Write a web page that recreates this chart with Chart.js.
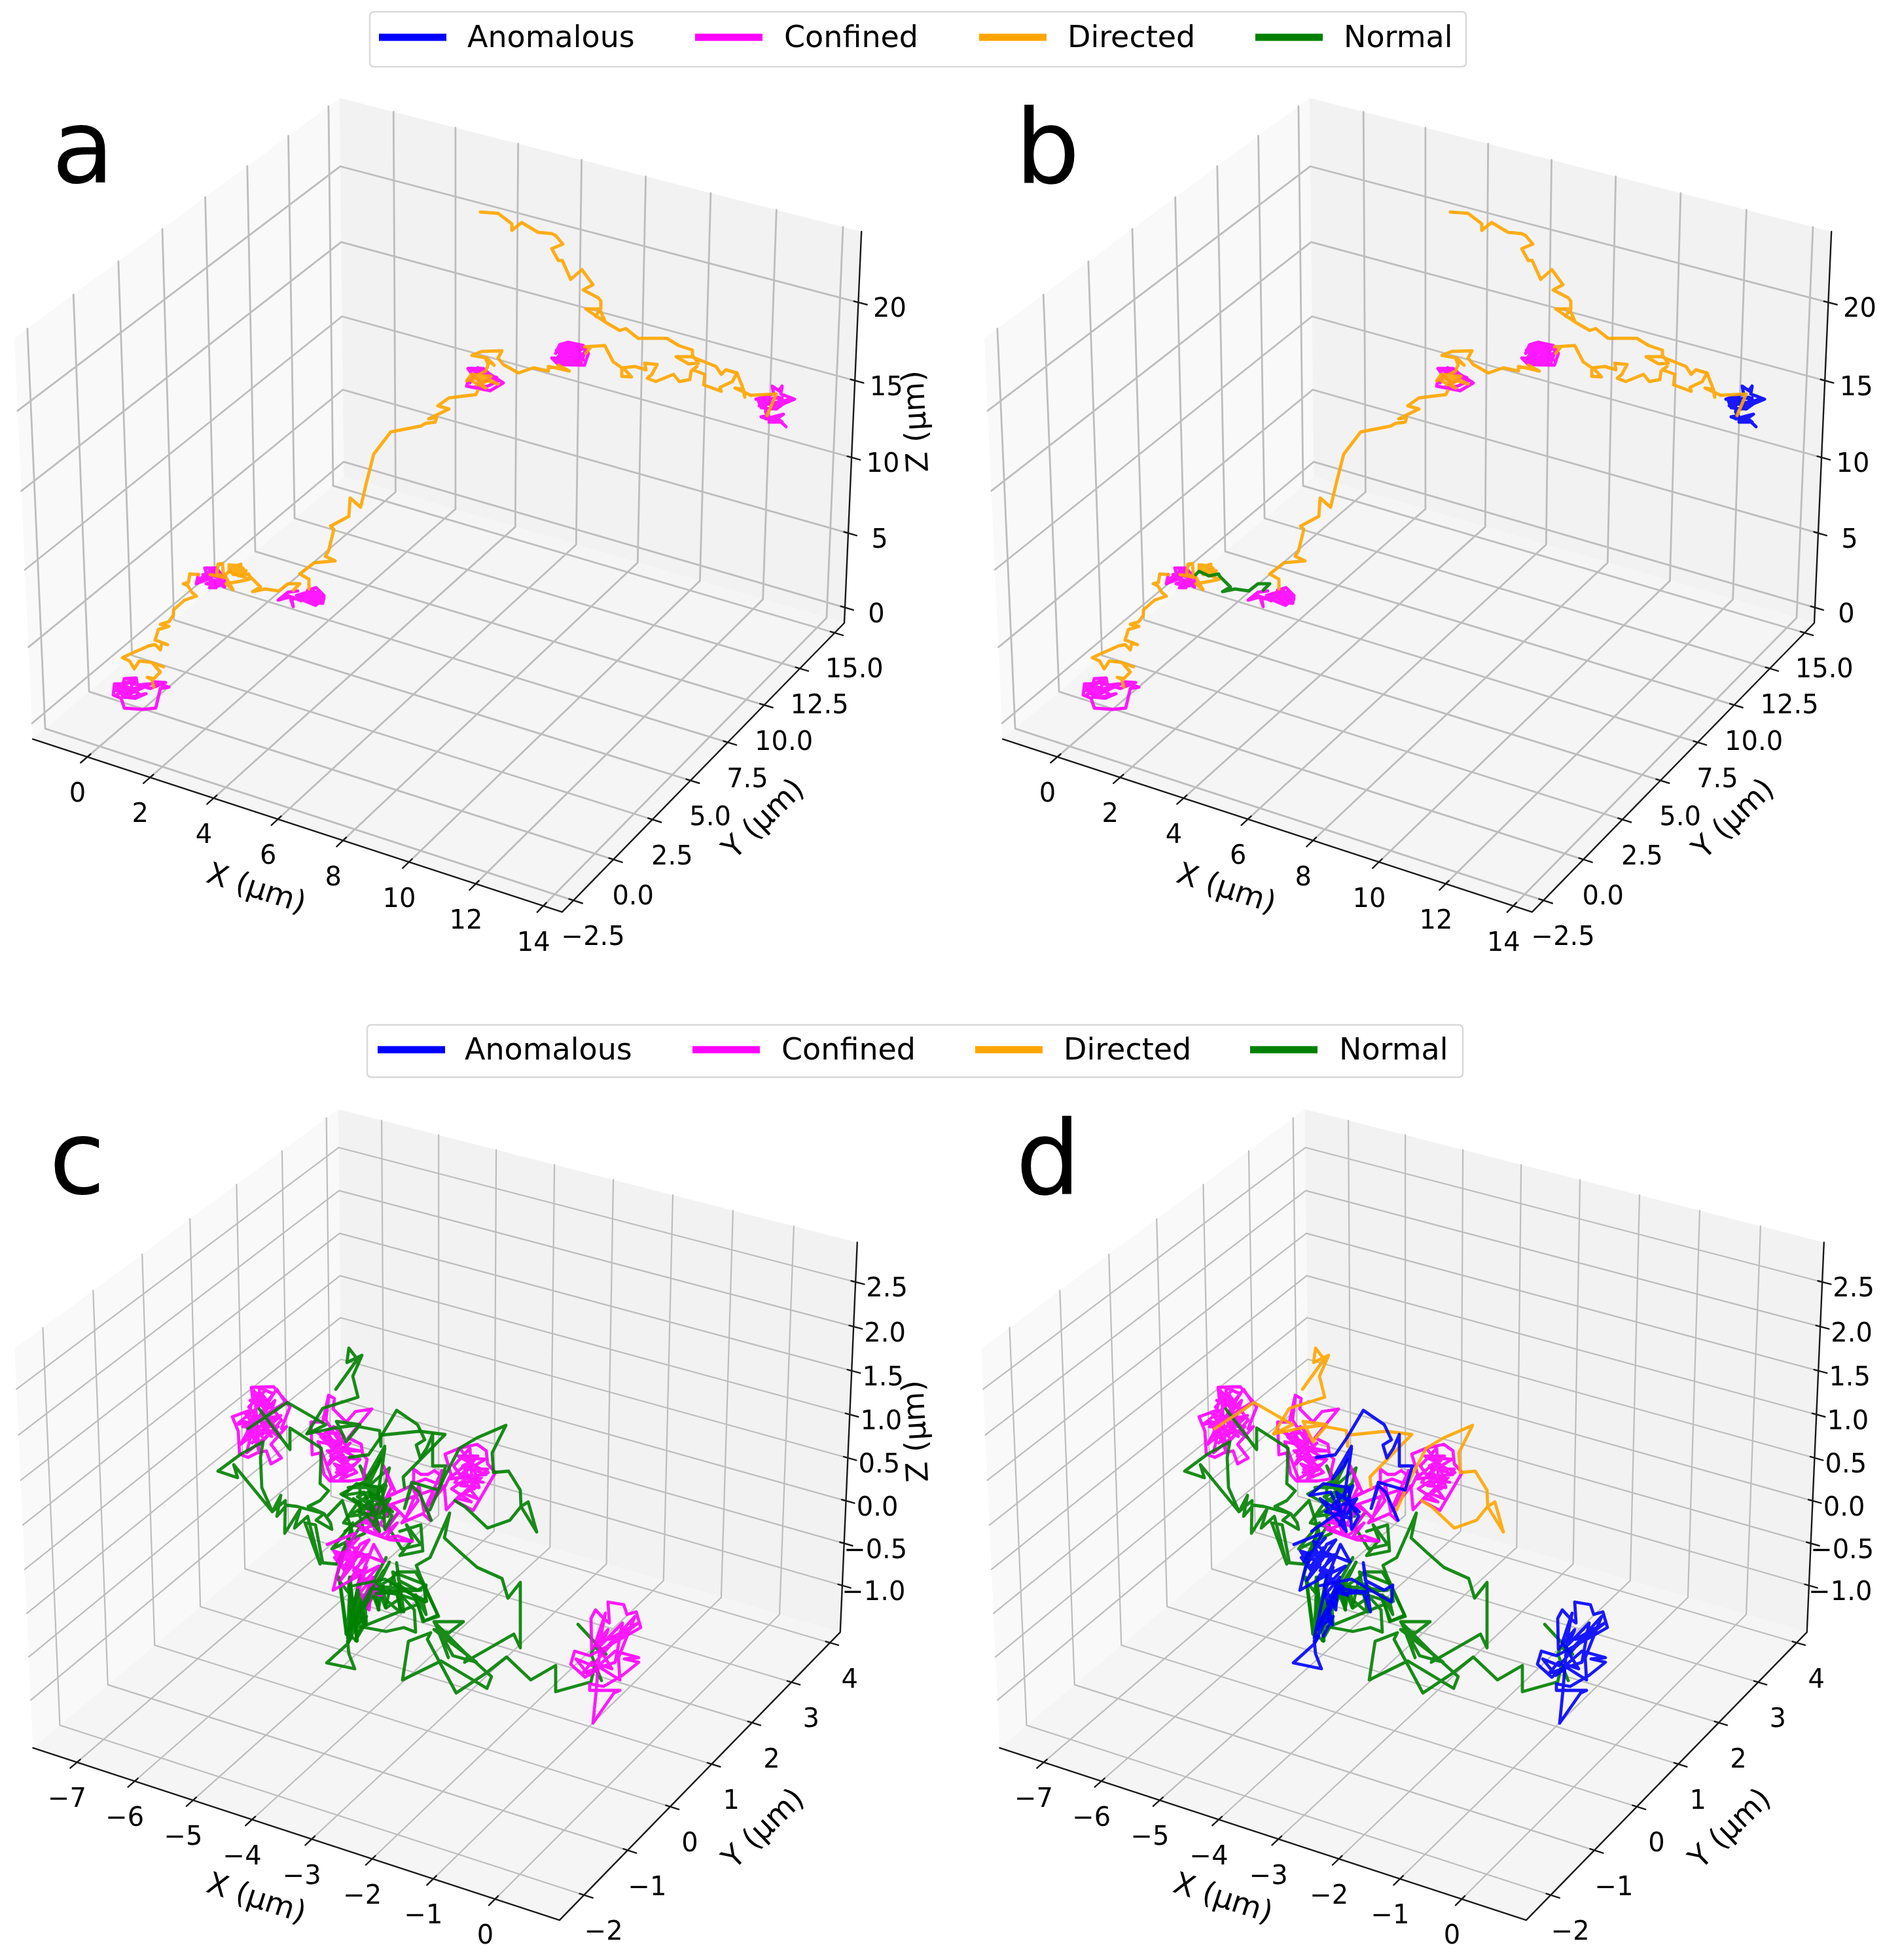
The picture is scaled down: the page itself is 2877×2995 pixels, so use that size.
<!DOCTYPE html>
<html>
<head>
<meta charset="utf-8">
<title>Trajectories</title>
<script src="https://cdn.jsdelivr.net/npm/chart.js@4"></script>
<style>
  html, body { margin: 0; padding: 0; background: #ffffff; }
  canvas { display: block; }
</style>
</head>
<body>
<canvas id="row-top" width="2877" height="1540"></canvas>
<canvas id="row-bottom" width="2877" height="1455"></canvas>
<script>
// Legend
const legendLabels = ['Anomalous', 'Confined', 'Directed', 'Normal'];
const legendColors = ['#0000ff', '#ff00ff', '#ffa500', '#008000'];

// Axis ticks of the upper panels (a, b)
const topXTicks = [0, 2, 4, 6, 8, 10, 12, 14];
const topYTicks = [-2.5, 0, 2.5, 5, 7.5, 10, 12.5, 15];
const topZTicks = [0, 5, 10, 15, 20];

// Axis ticks of the lower panels (c, d)
const lowXTicks = [-7, -6, -5, -4, -3, -2, -1, 0];
const lowYTicks = [-2, -1, 0, 1, 2, 3, 4];
const lowZTicks = [-1, -0.5, 0, 0.5, 1, 1.5, 2, 2.5];

const topPiece1 = [[233,1043],[258,1050],[245,1052],[238,1082],[218,1084],[190,1082],[185,1067],[173,1062],[175,1045],[188,1045],[190,1037],[208,1036],[210,1047],[227,1045],[208,1053],[198,1052],[180,1047],[177,1055],[193,1057],[187,1065],[207,1067],[223,1060],[202,1065],[185,1060],[180,1052],[197,1043],[230,1052],[253,1043],[237,1042],[220,1050],[195,1062],[205,1040],[185,1045],[212,1060],[195,1050],[178,1062],[190,1055],[215,1050],[200,1060],[180,1050]];
const topPiece2 = [[235,1050],[232,1038],[225,1035],[235,1037],[245,1027],[233,1013],[250,1019],[230,1012],[213,1010],[205,1022],[198,1010],[187,1005],[202,998],[227,987],[237,985],[245,993],[247,983],[256,985],[243,980],[237,978],[242,962],[258,957],[245,954],[258,950],[265,940],[265,932],[282,917],[300,911],[293,905],[287,895],[280,892],[288,890],[290,877],[303,878]];
const topPiece3 = [[303,878],[300,892],[317,883],[313,868],[330,868],[343,883],[343,897],[333,890],[330,898],[320,898],[327,887],[313,880],[327,877],[343,882],[323,880],[308,887],[305,885],[325,870],[338,885],[315,892],[335,895],[310,878],[330,880],[320,872],[340,890],[318,885],[305,890]];
const topPiece4 = [[321,878],[346,883],[331,877],[333,862],[340,861],[341,875],[356,901],[345,892],[368,888],[381,885],[368,880],[350,873],[350,863],[368,865],[375,875],[353,870],[365,878],[371,868],[355,867],[350,873],[352,866],[372,870],[356,878],[374,876],[350,868],[368,862],[360,875],[376,872]];
const topPiece5 = [[345,878],[350,873],[365,880],[380,877],[381,880],[398,897],[386,904],[405,900],[426,903],[440,892],[458,892],[448,902]];
const topPiece6 = [[455,903],[440,905],[425,917],[443,912],[448,927],[445,912],[460,918],[478,907],[495,912],[493,922],[480,920],[470,902],[483,898],[495,910],[477,915],[463,908],[453,910],[470,905],[490,905],[472,915],[492,918],[475,920],[468,910],[488,912],[478,902],[465,918],[482,925],[495,915],[470,912],[450,915],[436,908]];
const topPiece7 = [[472,900],[472,885],[458,877],[480,860],[512,857],[497,850],[502,842],[510,809],[505,804],[533,789],[535,761],[551,775],[560,737],[571,694],[597,660],[643,651],[650,647],[665,645],[667,638],[655,640],[686,625],[669,620],[686,608],[727,603],[730,597]];
const topPiece8 = [[715,563],[738,563],[746,570],[769,585],[749,597],[713,590],[715,582],[732,567],[759,577],[715,563],[720,570],[735,585],[750,578],[725,592],[745,590],[760,583],[730,562],[718,585]];
const topPiece9 = [[725,578],[745,582],[728,588],[750,575],[720,572],[713,582],[732,572],[761,587],[725,575],[742,593],[717,580],[742,567],[746,557],[742,548],[755,558],[744,547],[721,543],[736,537],[767,536],[761,547],[769,557],[778,562],[792,570],[815,562],[838,567],[838,560],[849,562],[870,567],[853,558]];
const topPiece10 = [[849,540],[855,527],[868,523],[891,528],[899,540],[893,558],[853,557],[843,547],[864,548],[883,545],[876,533],[857,537],[851,553],[887,557],[895,533],[864,527],[857,532],[891,533],[853,545],[891,550],[857,552],[883,555],[860,540],[880,530],[890,545],[870,552],[850,535],[875,540],[860,527],[885,537],[868,547],[893,540],[855,550]];
const topPiece11 = [[895,540],[903,530],[893,530],[924,528],[937,553],[950,562],[950,575],[965,576],[952,562],[970,560],[987,565],[985,555],[1004,557],[996,572],[989,578],[1002,583],[1029,572],[1038,583],[1054,580],[1056,567],[1065,560],[1058,565],[1077,572],[1075,588],[1102,598],[1100,592],[1119,583],[1126,570],[1134,590],[1138,607],[1136,595],[1123,593],[1147,604]];
const topPiece12 = [[1155,610],[1182,602],[1180,590],[1190,597],[1195,590],[1193,602],[1214,610],[1197,617],[1186,625],[1163,623],[1159,613],[1190,607],[1201,615],[1167,617],[1186,615],[1160,620],[1175,608],[1190,622],[1205,610],[1180,620],[1165,610],[1195,608],[1178,625],[1190,615],[1170,615],[1170,630],[1174,635],[1163,637],[1182,643],[1197,633],[1170,640],[1190,640],[1175,645],[1195,645],[1186,638],[1201,652]];
const topPiece13 = [[1147,604],[1186,602],[1172,635]];
const topPiece14 = [[1126,570],[1109,565],[1102,572],[1094,560],[1069,550],[1056,545],[1033,545],[1052,556],[1067,555],[1058,543],[1058,535],[1037,528],[1019,517],[975,517],[956,502],[947,505],[926,493],[914,485],[895,472],[916,472],[924,490],[910,483],[918,472],[918,460],[914,455],[891,443],[906,435],[889,412],[872,427],[859,398],[853,398],[843,380],[860,373],[849,360],[843,357],[822,355],[797,340],[782,352],[782,342],[761,326],[734,324]];

const topPieces = [topPiece1, topPiece3, topPiece6, topPiece8, topPiece10, topPiece12, topPiece2, topPiece4, topPiece5, topPiece7, topPiece9, topPiece11, topPiece13, topPiece14];
const classesA = ['Confined', 'Confined', 'Confined', 'Confined', 'Confined', 'Confined', 'Directed', 'Directed', 'Directed', 'Directed', 'Directed', 'Directed', 'Directed', 'Directed'];
const classesB = ['Confined', 'Confined', 'Confined', 'Confined', 'Confined', 'Anomalous', 'Directed', 'Directed', 'Normal', 'Directed', 'Directed', 'Directed', 'Directed', 'Directed'];

const lowCentre = [[514,2390],[550,2333],[525,2327],[546,2297],[521,2283],[564,2260],[582,2230],[561,2273],[595,2243],[589,2267],[546,2297],[577,2280],[593,2317],[550,2240],[571,2293],[532,2317],[586,2310],[557,2267],[591,2317],[546,2287],[579,2273],[532,2273],[550,2270],[550,2317],[557,2343],[507,2367],[539,2327],[514,2410],[532,2433],[534,2410],[546,2507],[529,2497],[518,2410]];
const lowCentreRight = [[611,2340],[643,2330],[646,2370],[611,2377],[630,2353],[621,2330],[643,2360],[614,2367],[593,2333],[607,2313]];
const lowBundle = [[519,2412],[531,2500],[535,2412],[545,2508],[547,2427],[529,2493],[586,2400],[544,2473],[595,2387],[547,2485],[590,2493],[617,2487],[635,2494],[633,2460],[615,2440],[590,2457],[585,2420],[578,2460],[572,2430],[611,2463],[608,2420],[647,2450],[651,2467],[635,2437],[646,2478],[669,2468],[647,2422],[635,2402],[608,2402],[601,2410],[569,2430],[611,2437],[647,2448],[560,2483],[558,2457]];
const lowFan = [[536,2410],[534,2503],[550,2407],[532,2500],[564,2430],[543,2467],[571,2423],[536,2483],[557,2437],[529,2495],[575,2420],[540,2470],[590,2380],[552,2450]];
const lowCluster1 = [[384,2120],[418,2119],[436,2140],[443,2150],[430,2183],[438,2180],[414,2207],[430,2228],[414,2237],[407,2217],[393,2220],[379,2227],[366,2222],[364,2187],[355,2165],[382,2155],[386,2137],[384,2120],[404,2147],[423,2123],[436,2143],[386,2173],[368,2207],[389,2190],[396,2220],[389,2127],[407,2140],[382,2140],[421,2153],[371,2180],[425,2180],[377,2220],[386,2180],[418,2130],[396,2120],[398,2147],[361,2177],[429,2163],[407,2183],[429,2197],[390,2130],[412,2150],[395,2165],[420,2140],[400,2195],[375,2160],[410,2175],[385,2205],[420,2165],[375,2195],[400,2130],[430,2170],[395,2210],[370,2170],[415,2195],[380,2150],[405,2125]];
const lowCluster2 = [[502,2132],[511,2137],[509,2153],[529,2173],[543,2157],[568,2153],[532,2197],[552,2207],[554,2222],[561,2230],[557,2247],[555,2260],[536,2263],[504,2263],[495,2253],[489,2220],[477,2223],[475,2173],[493,2173],[502,2132],[498,2170],[521,2207],[482,2187],[514,2210],[550,2217],[500,2217],[536,2247],[511,2237],[529,2257],[514,2250],[543,2237],[507,2260],[486,2203],[532,2213],[514,2190],[500,2190],[525,2225],[495,2200],[540,2225],[515,2245],[530,2235],[505,2225],[550,2230],[520,2260],[545,2250],[490,2195],[510,2180],[525,2195],[500,2240],[535,2205]];
const lowCluster3 = [[702,2213],[729,2207],[743,2217],[745,2237],[757,2250],[723,2308],[695,2293],[704,2283],[682,2307],[679,2273],[689,2253],[680,2222],[702,2213],[725,2240],[711,2227],[741,2230],[704,2253],[736,2257],[711,2283],[729,2290],[693,2240],[718,2213],[721,2260],[746,2250],[704,2270],[732,2273],[721,2233],[707,2240],[743,2253],[686,2260],[715,2235],[735,2245],[700,2225],[730,2225],[695,2265],[725,2275],[710,2245],[745,2245],[700,2290],[720,2295],[690,2275],[712,2260],[738,2265]];
const lowCluster4 = [[671,2253],[664,2247],[654,2253],[643,2253],[632,2245],[632,2267],[650,2260],[668,2267],[675,2247],[661,2280],[652,2300],[657,2323],[646,2313],[614,2327],[639,2293],[629,2270],[593,2287],[604,2280],[586,2240],[598,2273],[579,2310],[557,2327],[575,2330],[550,2337],[596,2353],[630,2355],[607,2347],[589,2350],[607,2327],[582,2347],[557,2313],[680,2270],[655,2300],[670,2275],[648,2310],[640,2270],[620,2320],[600,2300],[580,2330],[560,2300],[575,2345],[545,2330],[565,2320],[590,2335],[610,2310],[580,2290],[560,2340]];
const lowCluster5 = [[500,2360],[543,2343],[529,2370],[511,2380],[529,2403],[550,2360],[564,2353],[536,2393],[557,2403],[509,2430],[518,2393],[532,2373],[550,2373],[586,2387],[571,2360],[546,2423],[564,2460],[566,2433],[582,2438],[557,2417],[579,2393],[550,2407],[521,2373],[543,2380],[510,2370],[525,2395],[545,2365],[520,2415],[540,2390],[530,2355],[555,2380],[535,2415],[560,2395],[545,2440],[570,2410],[555,2445],[575,2425],[540,2400],[565,2375],[515,2385],[548,2350]];
const lowCluster6 = [[906,2633],[938,2587],[947,2583],[901,2583],[901,2573],[922,2577],[951,2560],[976,2540],[954,2535],[976,2533],[940,2523],[894,2563],[872,2543],[878,2523],[901,2530],[933,2513],[979,2487],[972,2463],[958,2467],[953,2452],[929,2448],[931,2480],[922,2473],[910,2460],[903,2473],[904,2520],[929,2490],[919,2513],[951,2480],[940,2540],[890,2557],[904,2540],[947,2567],[945,2533],[970,2470],[915,2530],[960,2490],[925,2520],[975,2480],[930,2505],[945,2500],[905,2545],[880,2535],[900,2560],[920,2545],[935,2550],[910,2510],[925,2465],[918,2500],[911,2583],[906,2633]];
const lowLeft = [[396,2153],[443,2215],[443,2182],[491,2213],[489,2267],[502,2278],[489,2293],[471,2302],[495,2313],[483,2323],[507,2337],[505,2327],[495,2313],[454,2302],[438,2300],[423,2317],[429,2285],[416,2310],[357,2238],[363,2258],[333,2248],[368,2222],[402,2203],[398,2227],[400,2273],[416,2310],[436,2293],[435,2343],[459,2305],[450,2335],[470,2317],[489,2390],[466,2327],[482,2330],[493,2388],[514,2390],[538,2340],[523,2293],[500,2317]];
const lowTail = [[883,2482],[926,2528],[908,2517],[903,2527],[919,2568],[908,2547],[903,2570],[849,2585],[849,2545],[811,2567],[774,2532],[742,2557],[697,2587],[653,2505],[658,2495],[624,2508],[615,2567],[674,2538],[744,2580],[751,2562],[669,2488],[692,2530],[728,2540],[715,2530],[665,2480],[685,2533],[672,2493],[663,2478],[708,2478],[686,2495],[663,2490],[715,2530],[710,2540],[785,2497],[795,2518],[795,2418],[776,2442],[767,2412],[729,2395],[704,2373],[679,2350],[687,2312],[657,2380],[636,2392],[643,2410],[670,2470],[648,2477],[632,2437],[652,2447],[646,2420],[600,2402],[613,2463],[600,2410],[589,2457],[575,2420],[579,2460],[564,2423],[643,2430],[571,2433],[529,2497],[568,2423],[546,2463],[557,2483],[543,2507]];
const lowTop = [[513,2123],[546,2077],[533,2060],[530,2082],[553,2071],[539,2103],[547,2135],[493,2152],[469,2191],[511,2182],[550,2177],[514,2172],[529,2203],[548,2180],[580,2186],[582,2210],[582,2193],[641,2187],[680,2192],[616,2257],[618,2273]];
const lowTopLeft = [[379,2183],[439,2143],[498,2177],[469,2191]];
const lowRight = [[657,2307],[679,2257],[702,2213],[729,2197],[773,2178],[752,2220],[754,2250],[777,2248],[795,2277],[796,2302],[807,2295],[820,2341],[796,2302],[779,2323],[745,2335],[711,2303],[695,2293]];
const lowMiddle = [[534,2227],[563,2223],[581,2197],[606,2155],[638,2177],[649,2200],[636,2208],[642,2228],[652,2213],[661,2192],[661,2240],[681,2240],[670,2277],[629,2265],[618,2305],[629,2270],[640,2280],[659,2323]];
const lowMiddle2 = [[588,2210],[559,2260],[577,2240],[588,2213],[577,2287],[599,2317],[588,2337],[584,2273],[545,2267],[524,2285],[556,2280],[570,2310],[527,2340]];
const lowMiddle3 = [[559,2300],[590,2270],[570,2330],[596,2290],[548,2310],[585,2320],[540,2290],[580,2340],[565,2280],[600,2310]];
const lowFoot = [[540,2423],[588,2413],[649,2448],[651,2422],[638,2430],[609,2415],[606,2388],[617,2463],[606,2433],[574,2435],[611,2433],[567,2427],[534,2490],[549,2460],[559,2483],[547,2430],[531,2503],[538,2500],[531,2512],[499,2541],[542,2550],[533,2527],[531,2507]];
const lowFoot2 = [[571,2423],[532,2510],[565,2440],[536,2490],[560,2470],[545,2500]];

const lowPieces = [lowCentre, lowCentreRight, lowBundle, lowFan, lowTail, lowCluster4, lowCluster1, lowCluster2, lowCluster3, lowLeft, lowTop, lowTopLeft, lowRight, lowCluster5, lowCluster6, lowMiddle, lowMiddle2, lowMiddle3, lowFoot, lowFoot2];
const classesC = ['Normal', 'Normal', 'Normal', 'Normal', 'Normal', 'Confined', 'Confined', 'Confined', 'Confined', 'Normal', 'Normal', 'Normal', 'Normal', 'Confined', 'Confined', 'Normal', 'Normal', 'Normal', 'Normal', 'Normal'];
const classesD = ['Normal', 'Normal', 'Normal', 'Normal', 'Normal', 'Confined', 'Confined', 'Confined', 'Confined', 'Normal', 'Directed', 'Directed', 'Directed', 'Anomalous', 'Anomalous', 'Anomalous', 'Anomalous', 'Anomalous', 'Anomalous', 'Anomalous'];

const panelA = { letter: 'a', letterAt: [79, 279], dx: 0, cx: 681, cy: 743, sx: 8110, sy: 8150, xLim: [-1.76, 14.55], yLim: [-3.2, 15.7], zLim: [-1.05, 24.45], xTicks: topXTicks, yTicks: topYTicks, zTicks: topZTicks, pieces: topPieces, classes: classesA, lineWidth: 5, gridWidth: 2.8, zTitle: true };
const panelB = { ...panelA, letter: 'b', letterAt: [1551, 279], dx: 1482, classes: classesB, zTitle: false };
const panelC = { letter: 'c', letterAt: [75, 1824], dx: 0, cx: 678, cy: 2286, sx: 8067, sy: 8119, xLim: [-7.77, 1.03], yLim: [-2.55, 4.27], zLim: [-1.56, 2.94], xTicks: lowXTicks, yTicks: lowYTicks, zTicks: lowZTicks, pieces: lowPieces, classes: classesC, lineWidth: 4.8, gridWidth: 2.2, zTitle: true };
const panelD = { ...panelC, letter: 'd', letterAt: [1552, 1824], dx: 1477, classes: classesD, zTitle: false };

// matplotlib style 3D view: elev 30, azim -60, dist 10, box aspect 4:4:3
const BOX = [1.1429, 1.1429, 0.8571];
const U = [0.866, 0.5, 0];
const V = [-0.25, 0.433, 0.866];
const N = [0.433, -0.75, 0.5];

function project(p, x, y, z) {
    const q = [
        ((x - p.xLim[0]) / (p.xLim[1] - p.xLim[0]) - 0.5) * BOX[0],
        ((y - p.yLim[0]) / (p.yLim[1] - p.yLim[0]) - 0.5) * BOX[1],
        ((z - p.zLim[0]) / (p.zLim[1] - p.zLim[0]) - 0.5) * BOX[2]
    ];
    const dot = a => a[0] * q[0] + a[1] * q[1] + a[2] * q[2];
    const depth = 10 - dot(N);
    return { x: p.cx + p.dx + p.sx * dot(U) / depth, y: p.cy - p.sy * dot(V) / depth };
}

function lineSet(points, color, width) {
    return { data: points, showLine: true, borderColor: color, borderWidth: width, pointRadius: 0, tension: 0, clip: false, fill: false, borderCapStyle: 'round', borderJoinStyle: 'round' };
}

function paneSet(points, color) {
    return { data: points, showLine: true, borderWidth: 0, borderColor: color, backgroundColor: color, pointRadius: 0, tension: 0, clip: false, fill: 'shape' };
}

function panelDatasets(p) {
    const [x0, x1] = p.xLim, [y0, y1] = p.yLim, [z0, z1] = p.zLim;
    const sets = [];
    const at = (x, y, z) => project(p, x, y, z);

    // panes
    sets.push(paneSet([at(x0, y0, z0), at(x0, y1, z0), at(x0, y1, z1), at(x0, y0, z1)], '#f9f9f9'));
    sets.push(paneSet([at(x0, y1, z0), at(x1, y1, z0), at(x1, y1, z1), at(x0, y1, z1)], '#f2f2f2'));
    sets.push(paneSet([at(x0, y0, z0), at(x1, y0, z0), at(x1, y1, z0), at(x0, y1, z0)], '#f5f5f5'));

    // grid
    const grid = '#bdbdbd', gw = p.gridWidth;
    p.xTicks.forEach(t => sets.push(lineSet([at(t, y0, z0), at(t, y1, z0), at(t, y1, z1)], grid, gw)));
    p.yTicks.forEach(t => sets.push(lineSet([at(x1, t, z0), at(x0, t, z0), at(x0, t, z1)], grid, gw)));
    p.zTicks.forEach(t => sets.push(lineSet([at(x0, y0, t), at(x0, y1, t), at(x1, y1, t)], grid, gw)));

    // axis lines and tick marks
    const dx = x1 - x0, dy = y1 - y0;
    sets.push(lineSet([at(x0, y0, z0), at(x1, y0, z0), at(x1, y1, z0), at(x1, y1, z1)], '#1a1a1a', 2.4));
    p.xTicks.forEach(t => sets.push(lineSet([at(t, y0 - 0.02 * dy, z0), at(t, y0 + 0.01 * dy, z0)], '#1a1a1a', 2.4)));
    p.yTicks.forEach(t => sets.push(lineSet([at(x1 + 0.016 * dx, t, z0), at(x1 - 0.008 * dx, t, z0)], '#1a1a1a', 2.4)));
    p.zTicks.forEach(t => sets.push(lineSet([at(x1 + 0.016 * dx, y1, t), at(x1 - 0.008 * dx, y1, t)], '#1a1a1a', 2.4)));

    // trajectory
    p.pieces.forEach((piece, i) => {
        const color = legendColors[legendLabels.indexOf(p.classes[i])];
        const pts = piece.map(([x, y]) => ({ x: x + p.dx, y: y }));
        sets.push(lineSet(pts, color + 'e6', p.lineWidth));
    });
    return sets;
}

function tickText(v) {
    return String(v).replace('-', '\u2212');
}

function drawPanelText(ctx, p) {
    const [x0, x1] = p.xLim, [y0, y1] = p.yLim, [z0] = p.zLim;
    ctx.fillStyle = '#000000';
    ctx.textAlign = 'center';
    ctx.textBaseline = 'middle';
    ctx.font = '40px "DejaVu Sans"';
    p.xTicks.forEach(t => {
        const q = project(p, t, y0, z0);
        ctx.fillText(tickText(t), q.x - 15, q.y + 58);
    });
    p.yTicks.forEach(t => {
        const q = project(p, x1, t, z0);
        ctx.fillText(tickText(Number.isInteger(t) && p.yTicks.includes(2.5) ? t.toFixed(1) : t), q.x + 30, q.y + 58);
    });
    p.zTicks.forEach(t => {
        const q = project(p, x1, y1, t);
        const label = p.zTicks.includes(0.5) && Number.isInteger(t) ? t.toFixed(1) : t;
        ctx.fillText(tickText(label), q.x + 48, q.y + 12);
    });

    // axis titles
    const title = (text, tx, ty, angle) => {
        ctx.save();
        ctx.translate(tx, ty);
        ctx.rotate(angle * Math.PI / 180);
        ctx.font = '46px "DejaVu Sans"';
        ctx.fillText(text, 0, 0);
        ctx.restore();
    };
    title('X (\u00b5m)', 391 + p.dx, p.cy + 617, 18);
    title('Y (\u00b5m)', 1168 + p.dx, p.cy + 510, -44);
    if (p.zTitle) title('Z (\u00b5m)', 1402, p.cy - 99, -93);

    ctx.textAlign = 'left';
    ctx.textBaseline = 'alphabetic';
    ctx.font = '156px "DejaVu Sans"';
    ctx.fillText(p.letter, p.letterAt[0], p.letterAt[1]);
}

function drawLegend(ctx, box, handles, texts, y) {
    ctx.fillStyle = '#ffffff';
    ctx.strokeStyle = '#d9d9d9';
    ctx.lineWidth = 2.5;
    ctx.beginPath();
    ctx.roundRect(box[0], box[1], box[2] - box[0], box[3] - box[1], 6);
    ctx.fill();
    ctx.stroke();
    ctx.font = '46px "DejaVu Sans"';
    ctx.textAlign = 'left';
    ctx.textBaseline = 'middle';
    legendLabels.forEach((label, i) => {
        ctx.strokeStyle = legendColors[i];
        ctx.lineWidth = 11;
        ctx.beginPath();
        ctx.moveTo(handles[i], y);
        ctx.lineTo(handles[i] + 103, y);
        ctx.stroke();
        ctx.fillStyle = '#000000';
        ctx.fillText(label, texts[i], y + 3);
    });
}

function makeRow(id, top, height, panels, legend) {
    // Chart.js paints the first dataset last, so flip the list
    const datasets = panels.flatMap(panelDatasets).reverse();
    new Chart(document.getElementById(id), {
        type: 'scatter',
        data: { datasets: datasets },
        options: {
            responsive: false,
            animation: false,
            devicePixelRatio: 1,
            layout: { padding: 0 },
            plugins: { legend: { display: false }, tooltip: { enabled: false } },
            scales: {
                x: { type: 'linear', display: false, min: 0, max: 2877 },
                y: { type: 'linear', display: false, min: top, max: top + height, reverse: true }
            }
        },
        plugins: [{
            id: 'panelText',
            afterDraw(chart) {
                const ctx = chart.ctx;
                ctx.save();
                ctx.translate(0, -top);
                panels.forEach(p => drawPanelText(ctx, p));
                drawLegend(ctx, legend.box, legend.handles, legend.texts, legend.y);
                ctx.restore();
            }
        }]
    });
}

makeRow('row-top', 0, 1540, [panelA, panelB], { box: [565, 18, 2240, 102], handles: [579, 1062, 1496, 1918], texts: [714, 1198, 1631, 2053], y: 57 });
makeRow('row-bottom', 1540, 1455, [panelC, panelD], { box: [561, 1566, 2235, 1646], handles: [577, 1058, 1490, 1910], texts: [710, 1194, 1625, 2046], y: 1604 });
</script>
</body>
</html>
